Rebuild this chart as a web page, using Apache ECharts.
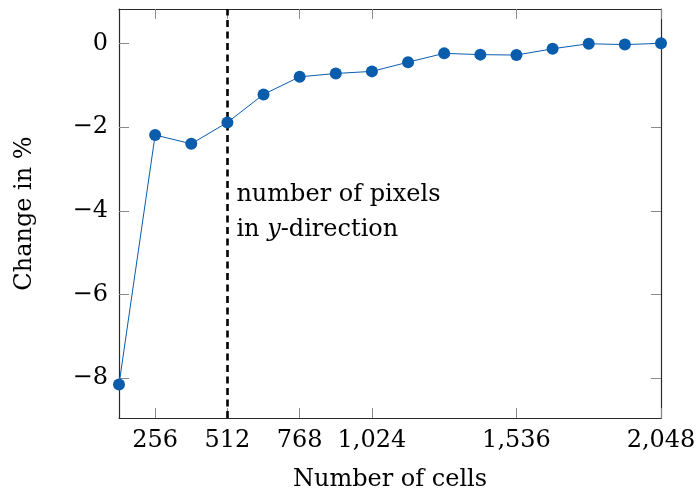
<!DOCTYPE html>
<html>
<head>
<meta charset="utf-8">
<script src="https://cdn.jsdelivr.net/npm/echarts@6/dist/echarts.min.js"></script>
<style>
  html, body { margin: 0; padding: 0; background: #fff; }
  #chart { width: 697px; height: 495px; }
</style>
</head>
<body>
<div id="chart"></div>
<script>
// Number of cells along the x direction
const cells = [128, 256, 384, 512, 640, 768, 896, 1024, 1152, 1280, 1408, 1536, 1664, 1792, 1920, 2048];
// Relative change of the result, in percent
const changePct = [-8.15, -2.19, -2.40, -1.89, -1.22, -0.80, -0.72, -0.67, -0.45, -0.24, -0.27, -0.28, -0.13, -0.01, -0.03, 0.0];
// Tick positions
const xTicks = [256, 512, 768, 1024, 1536, 2048];
const yTicks = [-8, -6, -4, -2, 0];
// Reference marker: pixels in y-direction
const pixelsY = 512;

const FONT = 'DejaVu Serif';
const BLUE = '#0a5cad';
const FRAME = '#2b2b2b';
const TICK = '#8a8a8a';

const fmtX = v => Number(v).toLocaleString('en-US');
const fmtY = v => (v < 0 ? '\u2212' + Math.abs(v) : String(v));

const chart = echarts.init(document.getElementById('chart'));

const frameLine = { show: true, onZero: false, lineStyle: { color: FRAME, width: 1.2 } };
const tickStyle = { color: TICK, width: 1 };

chart.setOption({
  animation: false,
  backgroundColor: '#fff',
  grid: { left: 119, right: 36, top: 9, bottom: 77, containLabel: false, outerBoundsMode: 'none' },
  xAxis: [
    {
      type: 'value', position: 'bottom', min: 128, max: 2048,
      axisLine: frameLine, splitLine: { show: false },
      name: 'Number of cells', nameLocation: 'middle', nameGap: 50,
      nameTextStyle: { fontFamily: FONT, fontSize: 24, color: '#000' },
      axisTick: { show: true, inside: true, length: 10, customValues: xTicks, lineStyle: tickStyle },
      axisLabel: { customValues: xTicks, formatter: fmtX, fontFamily: FONT, fontSize: 24, color: '#000', margin: 11 }
    },
    {
      type: 'value', position: 'top', min: 128, max: 2048,
      axisLine: frameLine, splitLine: { show: false },
      axisTick: { show: true, inside: true, length: 10, customValues: xTicks, lineStyle: tickStyle },
      axisLabel: { show: false }
    }
  ],
  yAxis: [
    {
      type: 'value', position: 'left', min: -8.95, max: 0.82,
      axisLine: frameLine, splitLine: { show: false },
      name: 'Change in %', nameLocation: 'middle', nameGap: 82, nameRotate: 90,
      nameTextStyle: { fontFamily: FONT, fontSize: 24, color: '#000' },
      axisTick: { show: true, inside: true, length: 10, customValues: yTicks, lineStyle: tickStyle },
      axisLabel: { customValues: yTicks, formatter: fmtY, fontFamily: FONT, fontSize: 24, color: '#000', margin: 11 }
    },
    {
      type: 'value', position: 'right', min: -8.95, max: 0.82,
      axisLine: frameLine, splitLine: { show: false },
      axisTick: { show: true, inside: true, length: 10, customValues: yTicks, lineStyle: tickStyle },
      axisLabel: { show: false }
    }
  ],
  series: [{
    type: 'line',
    data: cells.map((c, i) => [c, changePct[i]]),
    symbol: 'circle',
    symbolSize: 12,
    lineStyle: { color: BLUE, width: 1 },
    itemStyle: { color: BLUE },
    z: 3,
    markLine: {
      silent: true,
      symbol: 'none',
      label: { show: false },
      lineStyle: { color: '#000', width: 2.6, type: [7, 4.5] },
      data: [{ xAxis: pixelsY }],
      z: 2
    }
  }]
});

// Annotation next to the dashed line
const anchor = chart.convertToPixel({ xAxisIndex: 0, yAxisIndex: 0 }, [pixelsY, -3.2]);
chart.setOption({
  graphic: [{
    type: 'text',
    x: anchor[0] + 9,
    y: anchor[1],
    style: {
      text: '{r|number of pixels}\n{r|in }{i|y}{r|-direction}',
      fill: '#000',
      rich: {
        r: { fontFamily: FONT, fontSize: 24, lineHeight: 35, fill: '#000' },
        i: { fontFamily: FONT, fontStyle: 'italic', fontSize: 24, lineHeight: 35, fill: '#000' }
      },
      verticalAlign: 'top'
    }
  }]
});
</script>
</body>
</html>
